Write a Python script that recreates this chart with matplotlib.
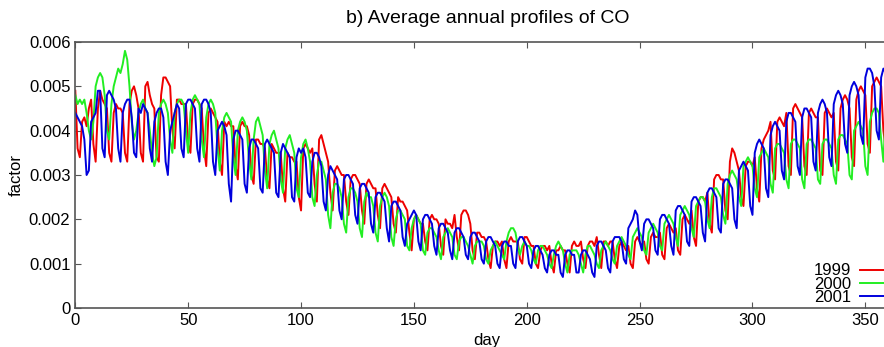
import matplotlib
matplotlib.use("Agg")
import matplotlib.pyplot as plt
import numpy as np

# daily factors in units of 1e-4, one row per week
co_1999 = [
    49,36,34,42,43,41,45, 47,37,33,45,49,47,46, 45,35,33,44,46,45,45, 44,35,33,46,49,50,48,
    45,35,33,50,51,48,46, 45,34,33,48,52,52,51, 50,40,36,47,47,46,46, 46,37,35,46,47,47,46,
    45,36,32,44,45,44,43, 42,33,30,42,41,42,41, 41,32,29,41,42,41,41, 39,30,28,38,38,37,37,
    36,29,27,37,36,35,35, 35,27,24,35,34,34,33, 33,25,22,36,37,36,35, 36,28,24,38,39,37,35,
    33,26,22,31,32,31,30, 30,24,21,29,30,30,29, 28,22,19,28,29,28,27, 27,21,18,27,28,27,26,
    25,19,17,25,24,24,23, 22,17,13,20,21,20,19, 19,15,13,20,21,20,20, 19,14,12,20,19,19,18,
    21,16,13,21,22,22,21, 19,13,11,17,17,16,16, 15,11,9,14,15,15,14, 15,11,9,15,16,15,15,
    15,11,10,16,16,15,14, 14,10,9,13,14,14,13, 14,10,8,13,13,14,13, 13,10,8,14,15,14,14,
    15,11,9,14,15,15,14, 16,12,9,15,15,14,15, 15,11,9,14,15,14,13, 14,10,9,15,16,15,14,
    15,11,10,16,17,16,16, 17,12,11,18,19,18,17, 18,13,12,20,21,20,19, 22,16,14,24,25,25,24,
    26,19,17,29,30,30,29, 29,22,20,33,36,35,33, 31,25,23,32,33,33,32, 34,27,24,36,38,39,40,
    42,31,29,42,43,42,41, 44,32,30,45,46,45,44, 43,32,30,44,45,44,43, 43,31,30,44,45,44,43,
    44,33,31,45,47,48,47, 45,34,32,47,49,50,49, 48,37,35,50,51,52,51, 50,40,36,48,50,51,49,
    36]

co_2000 = [
    48,46,47,46,47,44,40, 38,42,50,52,53,52,48, 40,38,46,50,52,54,53, 55,58,56,50,42,38,40,
    44,46,47,45,44,40,35, 32,34,44,46,47,46,44, 38,35,44,46,47,47,46, 40,35,44,47,48,47,46,
    38,34,43,46,47,46,44, 36,31,40,43,44,43,42, 34,30,40,42,43,42,40, 33,29,38,42,43,41,39,
    31,27,37,39,40,38,36, 29,26,36,38,39,37,35, 27,25,34,37,38,36,33, 25,23,30,33,33,31,29,
    21,18,26,28,28,27,25, 19,17,25,27,27,26,24, 18,16,24,26,25,25,23, 17,15,23,25,26,25,23,
    16,14,20,22,22,21,20, 14,13,18,20,21,20,19, 13,12,17,18,18,17,16, 13,11,16,17,18,17,16,
    12,11,15,16,16,15,14, 12,10,14,15,15,15,14, 11,10,13,14,15,14,13, 12,11,15,17,18,18,17,
    14,12,14,15,14,14,13, 11,10,13,14,14,13,12, 10,9,12,14,15,14,13, 10,8,12,13,13,13,12,
    10,8,12,14,14,13,12, 10,9,13,14,15,14,13, 11,10,14,15,16,15,14, 12,11,16,17,18,17,16,
    13,12,17,18,19,18,17, 14,13,19,20,21,20,19, 16,14,21,22,23,22,21, 18,16,23,24,25,25,24,
    20,18,25,27,27,26,25, 21,19,28,30,31,30,29, 25,23,32,33,34,33,32, 27,25,34,35,36,35,34,
    28,26,36,37,37,36,35, 29,27,37,38,38,37,36, 29,27,37,38,38,37,36, 29,28,37,38,38,37,36,
    30,28,38,39,39,38,37, 30,29,40,41,42,41,40, 32,30,42,44,45,45,44, 38,33,44,46,47,46,44,
    40]

co_2001 = [
    44,43,42,41,38,30,31, 42,43,44,49,49,36,34, 48,49,48,47,45,36,33, 44,46,47,47,43,35,34,
    45,44,46,45,44,36,33, 42,44,45,45,43,33,30, 40,42,44,46,45,36,34, 46,47,47,46,45,36,33,
    46,47,47,46,44,33,30, 40,41,42,41,39,28,24, 38,40,40,39,38,28,26, 36,38,38,37,36,27,26,
    37,38,37,36,35,26,25, 35,37,36,35,34,25,24, 34,36,35,36,34,26,25, 33,35,35,34,32,24,22,
    30,32,31,30,29,22,20, 29,30,30,29,28,21,19, 27,28,28,27,26,19,17, 25,26,26,25,24,18,15,
    23,24,24,23,22,16,14, 19,20,21,22,21,15,13, 20,21,21,20,19,14,12, 18,19,19,18,17,13,11,
    17,18,18,17,16,12,11, 16,17,17,16,15,11,10, 15,16,16,15,14,10,9, 14,15,15,14,14,10,9,
    15,16,16,15,14,10,9, 13,14,14,13,12,9,8, 12,13,13,12,12,8,7, 12,13,13,12,12,8,8,
    12,13,13,12,11,8,7, 14,15,15,14,13,9,8, 15,16,16,16,15,11,10, 18,19,20,22,21,15,13,
    19,20,20,19,18,13,12, 20,21,21,20,19,14,12, 22,23,23,22,21,15,14, 24,25,25,24,23,17,15,
    26,27,27,26,25,18,17, 28,29,29,28,27,20,18, 31,32,33,32,31,23,21, 35,37,38,37,36,27,25,
    39,41,42,41,40,31,29, 42,44,44,43,42,32,30, 43,45,45,44,43,33,31, 44,46,47,46,44,34,32,
    46,48,49,48,46,37,35, 48,50,51,50,48,39,37, 52,54,54,53,50,40,38, 52,54,53,52,50,41,38,
    45]

years = ['1999', '2000', '2001']
colors = ['#ee0000', '#22ee22', '#0000dd']

plt.rcParams['font.family'] = ['Liberation Sans', 'DejaVu Sans']

fig = plt.figure(figsize=(8.84, 3.47), dpi=100)
ax = fig.add_axes([0.0852, 0.1124, 0.932, 0.7666])

for vals, lab, c in zip([co_1999, co_2000, co_2001], years, colors):
    y = np.array(vals) * 1e-4
    ax.plot(np.arange(len(y)), y, color=c, linewidth=1.4, label=lab)

ax.set_xlim(0, 365)
ax.set_ylim(0, 0.006)
ax.set_xticks(np.arange(0, 351, 50))
ax.set_yticks(np.arange(0, 0.0061, 0.001))
ax.set_yticklabels(['0', '0.001', '0.002', '0.003', '0.004', '0.005', '0.006'])
ax.tick_params(direction='in', top=True, right=True, length=4, labelsize=12, color='#555555')
for s in ax.spines.values():
    s.set_color('#555555')
    s.set_linewidth(1.2)

ax.set_xlabel('day', fontsize=12, labelpad=4)
ax.set_ylabel('factor', fontsize=12, labelpad=4)
ax.set_title('b) Average annual profiles of CO', fontsize=14, pad=14)

ax.legend(loc='lower right', bbox_to_anchor=(1.035, 0.097), bbox_transform=fig.transFigure,
          markerfirst=False, frameon=False, fontsize=12, handlelength=2.8,
          labelspacing=-0.1, handletextpad=0.5, borderpad=0)

fig.savefig('out.png', dpi=100)
